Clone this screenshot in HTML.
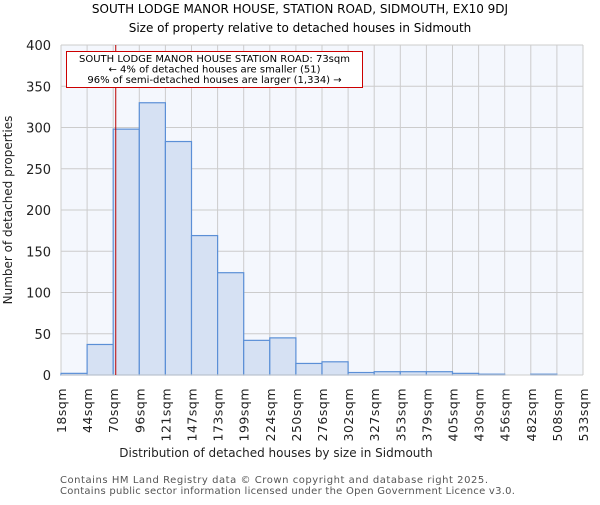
<!DOCTYPE html>
<html><head><meta charset="utf-8"><style>
body{margin:0;background:#fff;}
svg text{font-family:"DejaVu Sans","Liberation Sans",sans-serif;}
</style></head><body>
<svg id="c" width="600" height="500" xmlns="http://www.w3.org/2000/svg">
<text x="300" y="13" text-anchor="middle" font-size="12" fill="#000">SOUTH LODGE MANOR HOUSE, STATION ROAD, SIDMOUTH, EX10 9DJ</text>
<text x="300" y="32" text-anchor="middle" font-size="12" fill="#000">Size of property relative to detached houses in Sidmouth</text>
<rect x="61" y="45" width="522" height="330" fill="#f4f7fd"/>
<g id="grid"></g>
<g id="bars"></g>
<g id="axes"></g>
<text x="276" y="457" text-anchor="middle" font-size="12" fill="#222">Distribution of detached houses by size in Sidmouth</text>
<text transform="translate(12,210) rotate(-90)" text-anchor="middle" font-size="12" fill="#222">Number of detached properties</text>
<text x="60" y="483" font-size="10" fill="#555" textLength="428">Contains HM Land Registry data © Crown copyright and database right 2025.</text>
<text x="60" y="494" font-size="10" fill="#555" textLength="455">Contains public sector information licensed under the Open Government Licence v3.0.</text>
</svg>
<script>
const categories=["18sqm","44sqm","70sqm","96sqm","121sqm","147sqm","173sqm","199sqm","224sqm","250sqm","276sqm","302sqm","327sqm","353sqm","379sqm","405sqm","430sqm","456sqm","482sqm","508sqm","533sqm"];
const counts=[2,37,298,330,283,169,124,42,45,14,16,3,4,4,4,2,1,0,1,0];
const yTicks=[0,50,100,150,200,250,300,350,400];
const markerValue=73;
const binStart=18, binWidth=25.75;
const NS="http://www.w3.org/2000/svg";
const L=61,R=583,T=45,B=375;
const n=counts.length;
const xs=i=>L+(R-L)*i/n;
const xv=v=>L+(R-L)*(v-binStart)/(binWidth*n);
const y=v=>B-(B-T)*v/400;
function mk(tag,attrs,parent){const e=document.createElementNS(NS,tag);for(const k in attrs)e.setAttribute(k,attrs[k]);parent.appendChild(e);return e;}
const grid=document.getElementById('grid'),bars=document.getElementById('bars'),axes=document.getElementById('axes');
yTicks.forEach(t=>{
  const l=mk('line',{x1:L,x2:R,y1:y(t),y2:y(t),stroke:'#cccccc','stroke-width':1},grid);
  
  
  const tx=mk('text',{x:L-10,y:y(t)+5,'text-anchor':'end','font-size':13,fill:'#222'},axes);
  tx.textContent=t;
  
  
});
categories.forEach((c,i)=>{
  const l=mk('line',{x1:xs(i),x2:xs(i),y1:T,y2:B,stroke:'#cccccc','stroke-width':1},grid);
  
  
  const tx=mk('text',{transform:`translate(${xs(i)+5},388) rotate(-90)`,'text-anchor':'end','font-size':12.5,'letter-spacing':'0.5',fill:'#222'},axes);
  tx.textContent=c;
  
  
});
counts.forEach((v,i)=>{
  if(v<=0)return;
  const r=mk('rect',{x:xs(i),y:y(v),width:xs(i+1)-xs(i),height:B-y(v),fill:'#d6e1f3',stroke:'#5b8fd6','stroke-width':1.2},bars);
  
  
});
const ax=mk('line',{x1:L,x2:R,y1:B,y2:B,stroke:'#cccccc','stroke-width':1},axes);


const mx=xv(markerValue)-1;
const ml=mk('line',{x1:mx,x2:mx,y1:T,y2:B,stroke:'#bb0000','stroke-width':1},axes);


const g=mk('g',{},axes);


mk('rect',{x:66.5,y:51.5,width:296,height:36,fill:'#fff',stroke:'#cc0000','stroke-width':1},g);
["SOUTH LODGE MANOR HOUSE STATION ROAD: 73sqm","← 4% of detached houses are smaller (51)","96% of semi-detached houses are larger (1,334) →"].forEach((s,i)=>{
  const t=mk('text',{x:214.5,y:62+i*10.5,'text-anchor':'middle','font-size':10,fill:'#000'},g);
  t.textContent=s;
  
  
});
</script>
</body></html>
